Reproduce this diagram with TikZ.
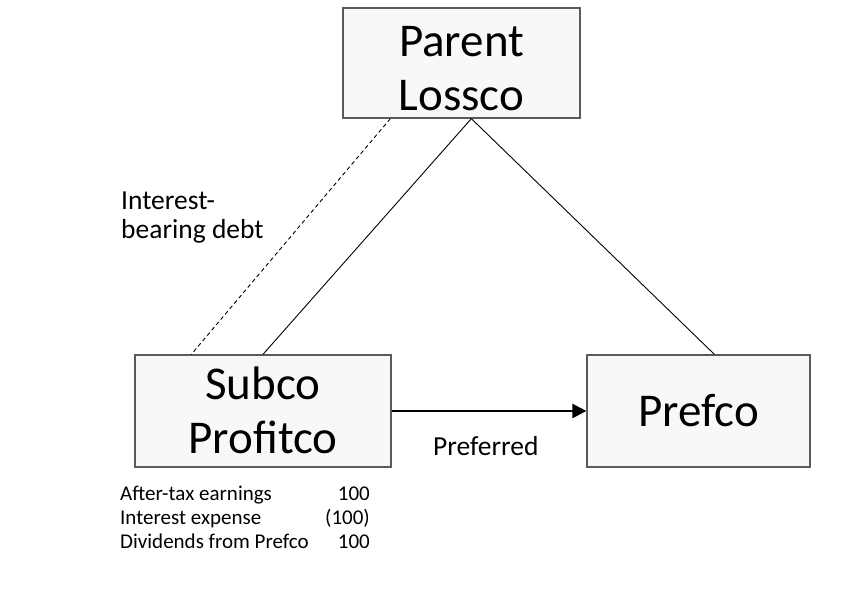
\documentclass[tikz,border=0pt]{standalone}
\usepackage{fontspec}
\setmainfont{Carlito}
\usetikzlibrary{calc,arrows.meta}
\definecolor{boxfill}{HTML}{F8F8F8}
\definecolor{boxline}{HTML}{5A5A5A}
\newcommand{\boxtext}[2]{\raisebox{#1}[0pt][0pt]{\begin{tabular}[t]{@{}c@{}}#2\end{tabular}}}
\tikzset{
  entity/.style={draw=boxline, line width=1.3pt, fill=boxfill, inner sep=0pt,
    font=\fontsize{47}{54}\selectfont},
  link/.style={draw=black, line width=0.9pt},
  debt/.style={draw=black, line width=0.9pt, dash pattern=on 4pt off 3pt},
  ownarrow/.style={draw=black, line width=2.6pt, -{Triangle[length=14pt,width=14pt]}},
  lbl/.style={font=\fontsize{27.5}{29}\selectfont, inner sep=0pt},
  tbl/.style={font=\fontsize{21}{24}\selectfont, inner sep=0pt},
}
\begin{document}
\begin{tikzpicture}[x=1pt,y=1pt]
\useasboundingbox (0,0) rectangle (853,601);
\node[entity, minimum width=237pt, minimum height=110pt] (parent) at (461.5,538) {\boxtext{6pt}{Parent\\Lossco}};
\node[entity, minimum width=256pt, minimum height=112pt] (subco) at (263,190) {\boxtext{11pt}{Subco\\Profitco}};
\node[entity, minimum width=223pt, minimum height=112pt] (prefco) at (698.5,190) {Prefco};
\coordinate (pA) at ($(parent.south west)+(129,0)$);
\coordinate (pD) at ($(parent.south west)+(48,0)$);
\coordinate (sD) at ($(subco.north west)+(57,0)$);
\coordinate (fT) at ($(prefco.north west)+(128,0)$);
\draw[link] (pA) -- (subco.north);
\draw[link] (pA) -- (fT);
\draw[debt] (pD) -- (sD);
\draw[ownarrow] (subco.east) -- (prefco.west);
\node[lbl, anchor=base west] (int1) at (121,391) {Interest-};
\node[lbl, anchor=base west] (int2) at (121,362) {bearing debt};
\node[lbl, anchor=base west] (pref) at (433,145) {Preferred};
\node[tbl, anchor=base west] (r1) at (120,100) {After-tax earnings};
\node[tbl, anchor=base west] (r2) at (120,76) {Interest expense};
\node[tbl, anchor=base west] (r3) at (120,52) {Dividends from Prefco};
\node[tbl, anchor=base east] (v1) at (370,100) {100};
\node[tbl, anchor=base east] (v2) at (370,76) {(100)};
\node[tbl, anchor=base east] (v3) at (370,52) {100};
\end{tikzpicture}
\end{document}
